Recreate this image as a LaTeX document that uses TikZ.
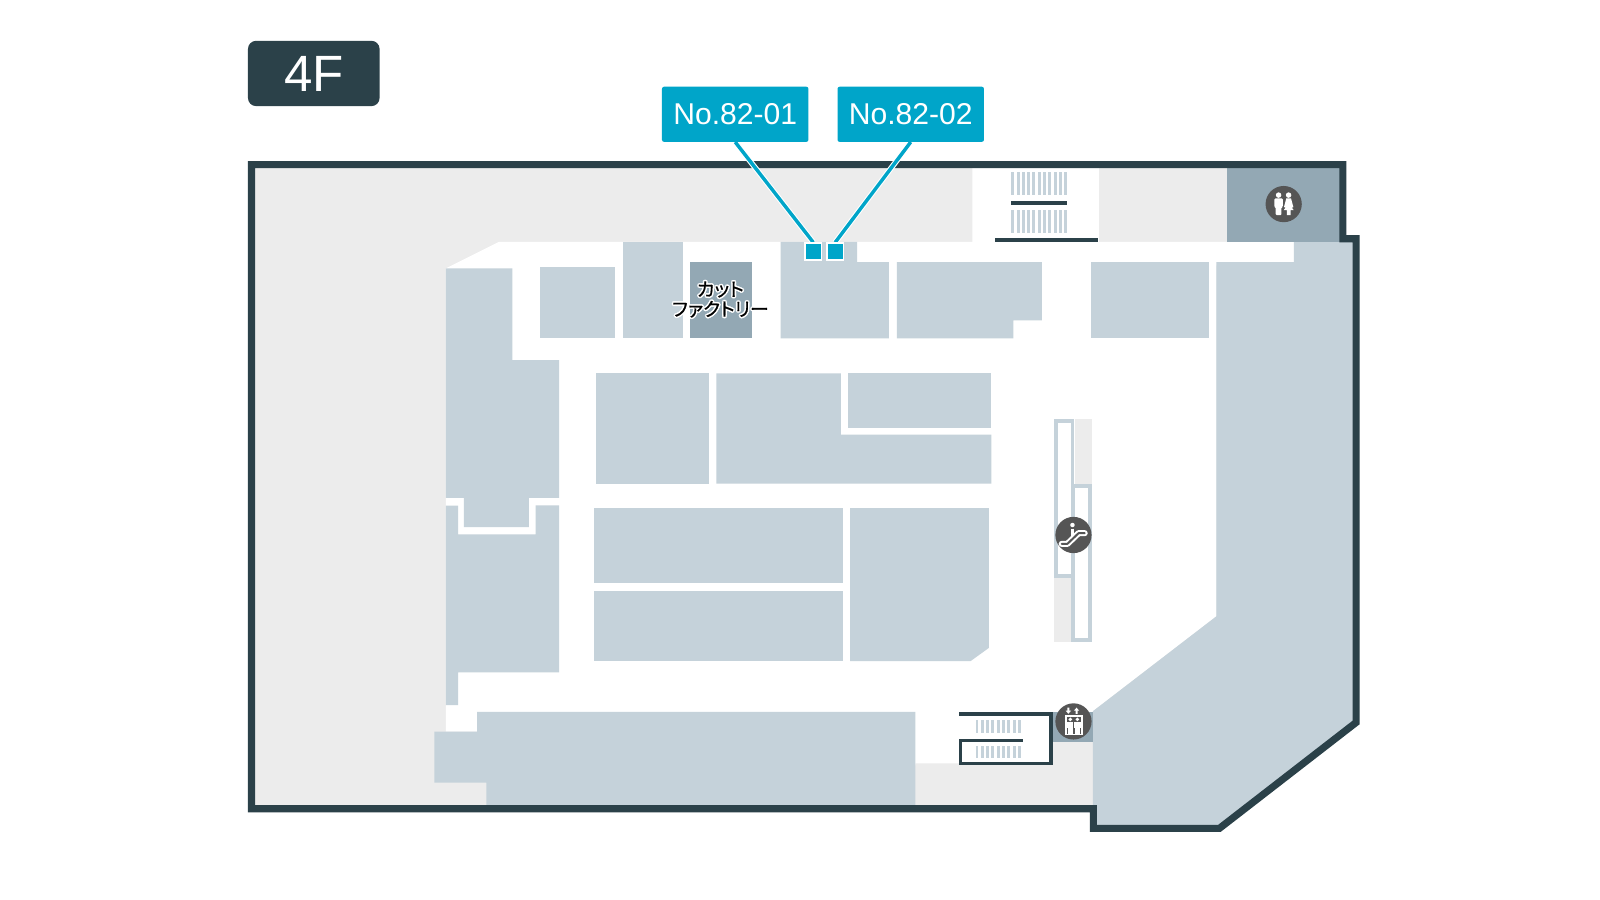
\documentclass[tikz,border=0pt]{standalone}
\usepackage{fontspec}
\setmainfont{Liberation Sans}
\newfontfamily\jpfont[RawFeature=+palt,FakeBold=0.6]{Noto Sans CJK JP}
\definecolor{wallc}{HTML}{2B4149}
\definecolor{roomc}{HTML}{C5D2DA}
\definecolor{darkroom}{HTML}{93A8B4}
\definecolor{floorc}{HTML}{ECECEC}
\definecolor{bluec}{HTML}{00A5C9}
\definecolor{iconc}{HTML}{555555}
\pgfdeclarelayer{basemap}
\pgfdeclarelayer{leaders}
\pgfsetlayers{basemap,leaders,main}
\tikzset{
 room/.style={fill=roomc,draw=none},
 droom/.style={fill=darkroom,draw=none},
 pale/.style={fill=floorc,draw=none},
 wall/.style={draw=wallc,line width=7pt,miter limit=10},
 stairline/.style={draw=wallc,line width=3.3pt},
 esc/.style={draw=roomc,line width=3.5pt,fill=white},
 tag/.style={fill=bluec,rounded corners=2pt,minimum width=143.5pt,minimum height=54pt,inner sep=0pt,text=white,font=\fontsize{29.5}{31}\selectfont},
 spot/.style={fill=bluec,draw=white,line width=1.5pt,minimum size=16.5pt,inner sep=0pt},
 halo/.style={draw=white,line width=5.5pt},
 lead/.style={draw=bluec,line width=3.4pt},
 badge/.style={circle,fill=iconc,minimum size=35.5pt,inner sep=0pt},
 ink/.style={fill=white,draw=none}
}
\newcommand{\hcopy}[3]{\makebox[0pt]{\raisebox{#2pt}{\hspace*{#1pt}\color{white}\jpfont #3}}}
\newcommand{\halotext}[1]{\hcopy{3}{0}{#1}\hcopy{-3}{0}{#1}\hcopy{0}{1.5}{#1}\hcopy{0}{-1.5}{#1}\hcopy{2}{1.1}{#1}\hcopy{-2}{1.1}{#1}\hcopy{2}{-1.1}{#1}\hcopy{-2}{-1.1}{#1}\makebox[0pt]{\color{black}\jpfont #1}}
\begin{document}
\begin{tikzpicture}[x=1pt,y=-1pt]
\useasboundingbox (0,0) rectangle (1568,882);
\begin{pgfonlayer}{basemap}
\fill[white] (0,0) rectangle (1568,882);
% floor
\path[pale] (246.5,161.3) -- (1316,161.3) -- (1316,234) -- (1329,234) -- (1329,708) -- (1195,811.8) -- (1071.5,811.8) -- (1071.5,792.5) -- (246.5,792.5) -- cycle;
% corridors
\fill[white] (437,263) -- (489,237) -- (953,237) -- (953,164) -- (1077,164) -- (1077,237) -- (1268,237) -- (1268,260) -- (1192,260) -- (1192,604) -- (1071,697) -- (1071,727) -- (1031,727) -- (1031,748) -- (897,748) -- (897,750) -- (470,750) -- (470,717) -- (437,717) -- cycle;
% rooms
\path[room] (437,263) -- (502,263) -- (502,353) -- (548,353) -- (548,488) -- (518.3,488) -- (518.3,516.7) -- (454.7,516.7) -- (454.7,488) -- (437,488) -- cycle;
\path[room] (437,495.6) -- (449,495.6) -- (449,523.7) -- (525,523.7) -- (525,495.3) -- (548,495.3) -- (548,659) -- (449,659) -- (449,691) -- (437,691) -- cycle;
\path[room] (529,262) rectangle (603,331.5);
\path[room] (611,237) rectangle (669.5,331.5);
\path[droom] (676.5,257) rectangle (737,331.5);
\path[room] (765,237) -- (840,237) -- (840,257) -- (871,257) -- (871,331.5) -- (765,331.5) -- cycle;
\path[room] (879,257) -- (1021,257) -- (1021,314) -- (993,314) -- (993,331.5) -- (879,331.5) -- cycle;
\path[room] (1069,257) rectangle (1184.5,331.5);
\path[room] (584,366) rectangle (694.5,474);
\path[room] (702,366) -- (824,366) -- (824,426) -- (971.5,426) -- (971.5,474) -- (702,474) -- cycle;
\path[room] (831,366) rectangle (971.5,419);
\path[room] (582,498) rectangle (826,571);
\path[room] (582,579) rectangle (826,648);
\path[room] (833,498) -- (969,498) -- (969,635) -- (951,648) -- (833,648) -- cycle;
\path[room] (467.5,697.6) -- (897,697.6) -- (897,792) -- (476.6,792) -- (476.6,767) -- (425.6,767) -- (425.6,717) -- (467.5,717) -- cycle;
\path[room] (1268,237) -- (1329,237) -- (1329,708) -- (1195,811) -- (1075,811) -- (1075,792) -- (1071,792) -- (1071,697) -- (1192,604) -- (1192,257) -- (1268,257) -- cycle;
\path[droom] (1202,164) rectangle (1313,237.5);
\path[droom] (1031,697.6) rectangle (1071,727);
% upper stairs
\foreach \i in {0,...,10}{
 \fill[roomc] ({991+\i*5.2},168.6) rectangle +(2.9,22.4);
 \fill[roomc] ({991+\i*5.2},206) rectangle +(2.9,22.6);
}
\fill[wallc] (991,197) rectangle (1046,201);
\fill[wallc] (975,233.4) rectangle (1076,237);
% lower stairs
\foreach \i in {0,...,8}{
 \fill[roomc] ({956+\i*5.2},706) rectangle +(2.9,12);
 \fill[roomc] ({956+\i*5.2},731) rectangle +(2.9,12);
}
\draw[stairline] (940,699.8) -- (1029.8,699.8) -- (1029.8,748.4) -- (941,748.4) -- (941,725.5) -- (1002.7,725.5);
% escalators
\path[pale] (1053,411) rectangle (1070,475);
\path[pale] (1033,566) rectangle (1050,629);
\draw[esc] (1034.8,412.8) rectangle (1051.2,564.2);
\draw[esc] (1051.4,476.5) rectangle (1068.2,627.2);
% outer wall
\draw[wall] (246.5,161.3) -- (1316,161.3) -- (1316,234) -- (1329,234) -- (1329,708) -- (1195,811.8) -- (1071.5,811.8) -- (1071.5,792.5) -- (246.5,792.5) -- cycle;
\end{pgfonlayer}
% floor tag
\node[fill=wallc,rounded corners=8pt,minimum width=129pt,minimum height=64pt,inner sep=0pt,text=white,font=\fontsize{50}{52}\selectfont] (floortag) at (307.5,72) {4F};
% icons
\node[badge] (wc) at (1258,200) {};
\fill[ink] (1253,191.2) circle (2.7);
\fill[ink] (1262.8,191.2) circle (2.7);
\fill[ink,rounded corners=1pt] (1248.8,194.5) -- (1257.2,194.5) -- (1257.2,203) -- (1255.8,203) -- (1255.8,210.8) -- (1250.2,210.8) -- (1250.2,203) -- (1248.8,203) -- cycle;
\fill[ink] (1260.5,194.5) -- (1265.2,194.5) -- (1267.5,203) -- (1266,203.5) -- (1267.8,206) -- (1264.8,206) -- (1264.8,210.8) -- (1261,210.8) -- (1261,206) -- (1258,206) -- (1259.8,203.5) -- (1258.3,203) -- cycle;
\node[badge] (lift) at (1052,707) {};
\fill[ink] (1043.7,700.7) rectangle (1061,720.5);
\fill[iconc] (1045.3,702.3) rectangle (1059.4,718.9);
\foreach \p in {1048.9,1055.8}{
 \fill[ink] (\p,705) circle (1.9);
 \fill[ink] (\p-3.1,707.3) rectangle (\p+3.1,713.5);
 \fill[ink] (\p-2.2,713) rectangle (\p+2.2,719);
}
\fill[ink] (1047,699.5) -- (1049.6,696.5) -- (1048,696.5) -- (1048,693.5) -- (1046,693.5) -- (1046,696.5) -- (1044.4,696.5) -- cycle;
\fill[ink] (1055,693.5) -- (1057.6,696.5) -- (1056,696.5) -- (1056,699.5) -- (1054,699.5) -- (1054,696.5) -- (1052.4,696.5) -- cycle;
\node[badge] (escal) at (1052,524.3) {};
\draw[white,line width=6pt,line cap=round,line join=round] (1040.5,533) -- (1046,533) -- (1057,522.5) -- (1063,522.5);
\draw[iconc,line width=2pt,line cap=round,line join=round] (1040.5,533) -- (1046,533) -- (1057,522.5) -- (1063,522.5);
\fill[ink] (1051,514.5) circle (2.2);
\draw[white,line width=3pt] (1051,518) -- (1051,525);
% label
\node[inner sep=0pt,font=\fontsize{18.5}{19.5}\selectfont,align=center] (shop) at (706,293.5) {\halotext{カット}\\\halotext{ファクトリー}};
% tags and leaders
\node[tag] (tagA) at (720.5,112) {No.82-01};
\node[tag] (tagB) at (892.5,112) {No.82-02};
\node[spot] (spotA) at (797,246.5) {};
\node[spot] (spotB) at (818.5,246.5) {};
\begin{pgfonlayer}{leaders}
\draw[halo] (tagA.south) -- (spotA.north);
\draw[halo] (tagB.south) -- (spotB.north);
\draw[lead] (tagA.south) -- (spotA.north);
\draw[lead] (tagB.south) -- (spotB.north);
\end{pgfonlayer}
\end{tikzpicture}
\end{document}
